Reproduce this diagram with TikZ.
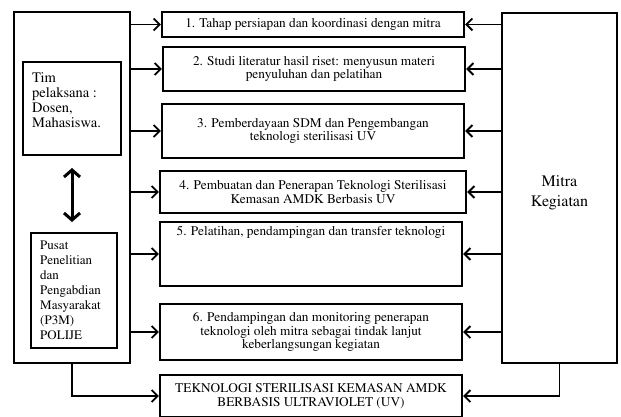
\documentclass[tikz,border=0pt]{standalone}
\usepackage[T1]{fontenc}
\usepackage{times}
\usetikzlibrary{arrows.meta,positioning}

\begin{document}
\begin{tikzpicture}[x=1pt,y=-1pt,
        bigbox/.style={draw,line width=1.8pt,inner sep=0pt},
        smallbox/.style={draw,line width=2pt,inner sep=0pt},
        stage/.style={draw,line width=2.4pt,align=center,inner sep=0pt,
            minimum width=302pt,font=\fontsize{13.3}{13.4}\selectfont},
        arr/.style={-{Straight Barb[length=6pt,width=12pt,line width=1.8pt]},line width=1.8pt},
        dblarr/.style={{Straight Barb[length=7pt,width=16pt]}-{Straight Barb[length=7pt,width=16pt]},line width=3pt}]
    \useasboundingbox (0,0) rectangle (621,417);
    % left side: team and P3M
    \node[bigbox,minimum width=116pt,minimum height=351pt] (kiri) at (72,187.5) {};
    \node[smallbox,minimum width=98pt,minimum height=93pt] (tim) at (72,108.5) {};
    \node[anchor=north west,align=left,inner sep=0pt,font=\fontsize{14.5}{15}\selectfont]
        (timtxt) at ([shift={(10,11)}]tim.north west) {Tim\\pelaksana :\\Dosen,\\Mahasiswa.};
    \node[smallbox,minimum width=86pt,minimum height=115pt] (p3m) at (74,290.5) {};
    \node[anchor=west,align=left,inner sep=0pt,font=\fontsize{13}{15}\selectfont]
        (p3mtxt) at ([xshift=10pt]p3m.west) {Pusat\\Penelitian\\dan\\Pengabdian\\Masyarakat\\(P3M)\\POLIJE};
    \draw[dblarr,shorten <=12pt,shorten >=10pt] (tim.south) -- (tim.south |- p3m.north);
    % right side
    \node[bigbox,line width=1.5pt,minimum width=115pt,minimum height=350pt] (mitra) at (559.5,188) {};
    \node[align=center,inner sep=0pt,font=\fontsize{16}{20}\selectfont]
        (mitratxt) at ([yshift=-5pt]mitra.center) {Mitra\\Kegiatan};
    % stages
    \node[stage,minimum height=25pt] (s1) at (313,24.5) {1. Tahap persiapan dan koordinasi dengan mitra};
    \node[stage,minimum height=44pt] (s2) at (314,69) {2. Studi literatur hasil riset: menyusun materi\\penyuluhan dan pelatihan};
    \node[stage,minimum height=54pt] (s3) at (313,131) {3. Pemberdayaan SDM dan Pengembangan\\teknologi sterilisasi UV};
    \node[stage,minimum height=42pt,minimum width=306pt] (s4) at (313,192) {4. Pembuatan dan Penerapan Teknologi Sterilisasi\\Kemasan AMDK Berbasis UV};
    \node[stage,minimum height=64pt,text height=9pt,text depth=47pt] (s5) at (311,254) {5. Pelatihan, pendampingan dan transfer teknologi};
    \node[stage,minimum height=56pt] (s6) at (311,332) {6. Pendampingan dan monitoring penerapan\\teknologi oleh mitra sebagai tindak lanjut\\keberlangsungan kegiatan};
    \node[stage,minimum height=42pt] (s7) at (311,396) {TEKNOLOGI STERILISASI KEMASAN AMDK\\BERBASIS ULTRAVIOLET (UV)};
    % connectors
    \foreach \s in {s1,s2,s3,s4,s5,s6} {
        \draw[arr] (kiri.east |- \s) -- (\s.west);
        \draw[arr] (mitra.west |- \s) -- (\s.east);
    }
    \draw[arr] (kiri.south) |- (s7.west);
    \draw[arr] (mitra.south) |- (s7.east);
\end{tikzpicture}
\end{document}
